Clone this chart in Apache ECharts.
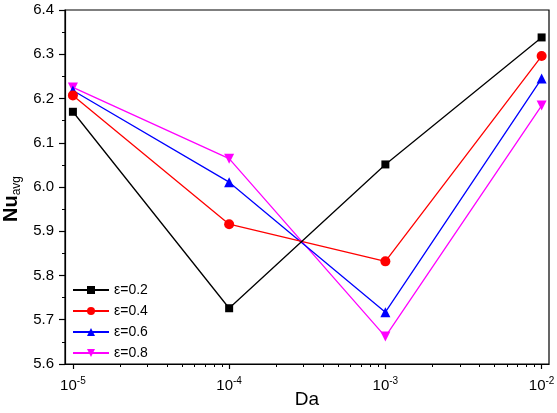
<!DOCTYPE html>
<html>
<head>
<meta charset="utf-8">
<script src="https://cdn.jsdelivr.net/npm/echarts@6/dist/echarts.min.js"></script>
<style>html,body{margin:0;padding:0;background:#fff;}#c{width:557px;height:413px;}</style>
</head>
<body>
<div id="c"></div>
<script>
var daValues = [1e-5, 1e-4, 1e-3, 1e-2];
var seriesNames = ['ε=0.2', 'ε=0.4', 'ε=0.6', 'ε=0.8'];
var eps02 = [6.170, 5.726, 6.051, 6.338];
var eps04 = [6.207, 5.916, 5.832, 6.296];
var eps06 = [6.218, 6.011, 5.717, 6.245];
var eps08 = [6.225, 6.064, 5.662, 6.184];
var yTicks = [5.6, 5.7, 5.8, 5.9, 6.0, 6.1, 6.2, 6.3, 6.4];
var xMajorTicks = [1e-5, 1e-4, 1e-3, 1e-2];
var xMinorTicks = [];
[1e-5, 1e-4, 1e-3].forEach(function (d) { for (var k = 2; k <= 9; k++) xMinorTicks.push(k * d); });

var colors = ['#000000', '#ff0000', '#0000ff', '#ff00ff'];
var symbols = ['rect', 'circle', 'triangle', 'path://M0,0 L10,0 L5,9 Z'];
var sizes = [8, 10, 10, 10];
var allData = [eps02, eps04, eps06, eps08];

function pairs(arr) { return daValues.map(function (d, i) { return [d, arr[i]]; }); }

var font = 'Liberation Sans, Arial, sans-serif';
var chart = echarts.init(document.getElementById('c'), null, { renderer: 'canvas' });
chart.setOption({
  backgroundColor: '#ffffff',
  animation: false,
  grid: { left: 65, right: 8, top: 10, bottom: 49, containLabel: false, outerBoundsMode: 'none', show: true, borderColor: '#000', borderWidth: 1.2, backgroundColor: 'transparent' },
  legend: {
    orient: 'vertical', left: 67, top: 278, itemWidth: 36, itemHeight: 10, itemGap: 7,
    textStyle: { fontFamily: font, fontSize: 14, color: '#000', padding: [0, 0, 0, 0] },
    data: seriesNames
  },
  xAxis: [{
    type: 'log', logBase: 10, min: 8.9e-6, max: 1.115e-2,
    name: 'Da', nameLocation: 'middle', nameGap: 26, nameMoveOverlap: false,
    nameTextStyle: { fontFamily: font, fontSize: 19, color: '#000' },
    axisLine: { lineStyle: { color: '#000', width: 1.2 } },
    axisTick: { show: true, length: 5, customValues: xMajorTicks, lineStyle: { color: '#000', width: 1.2 } },
    axisLabel: {
      customValues: xMajorTicks, color: '#000', fontFamily: font, fontSize: 15, margin: 12,
      formatter: function (v) { return '10{sup|' + Math.round(Math.log10(v)) + '}'; },
      rich: { sup: { fontSize: 10, verticalAlign: 'top', padding: [0, 0, 9, 0], fontFamily: font, color: '#000' } }
    },
    splitLine: { show: false }, minorTick: { show: false }, minorSplitLine: { show: false }
  }, {
    type: 'log', logBase: 10, min: 8.9e-6, max: 1.115e-2, position: 'bottom',
    axisLine: { show: false },
    axisTick: { show: true, length: 3, customValues: xMinorTicks, lineStyle: { color: '#000', width: 1 } },
    axisLabel: { show: false },
    splitLine: { show: false }
  }],
  yAxis: {
    type: 'value', min: 5.6, max: 6.4, interval: 0.1,
    name: '{n|Nu}{s|avg}', nameLocation: 'middle', nameGap: 38, nameRotate: 90,
    nameTextStyle: {
      padding: [0, 24, 0, 0],
      rich: {
        n: { fontFamily: font, fontSize: 20, fontWeight: 'bold', color: '#000' },
        s: { fontFamily: font, fontSize: 12, color: '#000', verticalAlign: 'bottom', padding: [10, 0, 0, 0] }
      }
    },
    axisLine: { lineStyle: { color: '#000', width: 1.2 } },
    axisTick: { show: true, length: 6, lineStyle: { color: '#000', width: 1.2 } },
    minorTick: { show: true, splitNumber: 2, length: 3, lineStyle: { color: '#000', width: 1 } },
    axisLabel: { color: '#000', fontFamily: font, fontSize: 15, margin: 11, formatter: function (v) { return v.toFixed(1); } },
    splitLine: { show: false }
  },
  series: allData.map(function (arr, i) {
    return {
      name: seriesNames[i], type: 'line', data: pairs(arr),
      symbol: symbols[i], symbolSize: sizes[i],
      lineStyle: { color: colors[i], width: 1.3 },
      itemStyle: { color: colors[i] },
      z: 10 - i
    };
  })
});
</script>
</body>
</html>
